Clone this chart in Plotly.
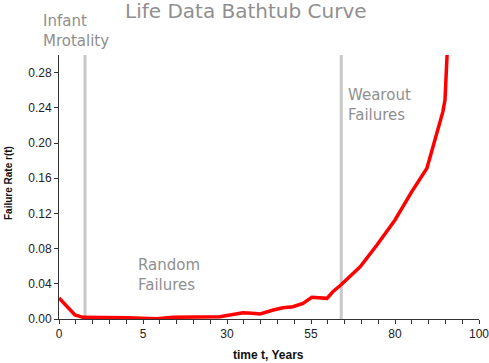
import plotly.graph_objects as go

# Failure-rate curve (x in axis units 0-100, y = failure rate)
time_x = [0, 3.8, 5.7, 16.2, 23.3, 27.1, 38.3, 40.7, 43.8, 46.0, 47.9, 51.0, 53.3,
          55.7, 58.1, 60.2, 61.7, 63.8, 65.2, 67.1, 71.7, 75.7, 80.0, 84.0, 87.6,
          90.0, 91.4, 91.9, 92.1, 92.4]
failure_rate = [0.024, 0.0045, 0.0019, 0.0015, 0.0002, 0.0019, 0.0026, 0.0045, 0.0072,
                0.0065, 0.0057, 0.0102, 0.0128, 0.014, 0.0178, 0.0247, 0.0242, 0.0235,
                0.031, 0.0386, 0.0594, 0.0841, 0.1125, 0.1447, 0.1713, 0.211, 0.2356,
                0.2489, 0.2792, 0.300]

# Phase boundaries
boundaries = [6.2, 67.2]

# X tick labels (as printed on the chart)
major_tick_vals = [0, 20, 40, 60, 80, 100]
major_tick_text = ["0", "5", "30", "55", "80", "100"]
minor_step = 4

y_tick_vals = [0.00, 0.04, 0.08, 0.12, 0.16, 0.20, 0.24, 0.28]

tickvals = list(range(0, 101, minor_step))
ticktext = [major_tick_text[major_tick_vals.index(v)] if v in major_tick_vals else "" for v in tickvals]

fig = go.Figure()
fig.add_trace(go.Scatter(x=time_x, y=failure_rate, mode="lines",
                         line=dict(color="#ff0000", width=3.5), cliponaxis=False,
                         hoverinfo="skip"))

for b in boundaries:
    fig.add_shape(type="line", xref="x", yref="y", x0=b, x1=b, y0=0, y1=0.30,
                  line=dict(color="#c8c8c8", width=3), layer="below")

gray = "#8f8f8f"
label_font = dict(family="DejaVu Sans", size=15, color=gray)

fig.add_annotation(text="Life Data Bathtub Curve", xref="paper", yref="paper",
                   x=(246 - 59) / 420, y=(319 - 11) / 264, xanchor="center", yanchor="middle",
                   showarrow=False, font=dict(family="DejaVu Sans", size=20, color=gray))
fig.add_annotation(text="Infant<br>Mrotality", xref="paper", yref="paper",
                   x=(41 - 59) / 420, y=(319 - 31) / 264, xanchor="left", yanchor="middle",
                   align="left", showarrow=False, font=label_font)
fig.add_annotation(text="Random<br>Failures", xref="x", yref="y",
                   x=18.4, y=0.0505, xanchor="left", yanchor="middle",
                   align="left", showarrow=False, font=label_font)
fig.add_annotation(text="Wearout<br>Failures", xref="x", yref="y",
                   x=68.4, y=0.243, xanchor="left", yanchor="middle",
                   align="left", showarrow=False, font=label_font)
fig.add_annotation(text="<b>Failure Rate r(t)</b>", xref="paper", yref="paper",
                   x=(8 - 59) / 420, y=(319 - 183) / 264, xanchor="center", yanchor="middle",
                   textangle=-90, showarrow=False,
                   font=dict(family="Liberation Sans", size=10, color="#111"))
fig.add_annotation(text="<b>time t, Years</b>", xref="paper", yref="paper",
                   x=(268 - 59) / 420, y=(319 - 355) / 264, xanchor="center", yanchor="middle",
                   showarrow=False, font=dict(family="Liberation Sans", size=12, color="#111"))

fig.update_layout(
    width=489, height=363,
    margin=dict(l=59, r=10, t=55, b=44),
    paper_bgcolor="white", plot_bgcolor="white",
    showlegend=False,
    xaxis=dict(range=[0, 100], tickmode="array", tickvals=tickvals, ticktext=ticktext,
               ticks="outside", ticklen=4, tickcolor="#333", showline=True, linecolor="#333",
               linewidth=1, showgrid=False, zeroline=False, automargin=False,
               ticklabeloverflow="allow",
               tickfont=dict(family="Liberation Sans", size=12, color="#222")),
    yaxis=dict(range=[0, 0.30], tickmode="array", tickvals=y_tick_vals,
               ticktext=[f"{v:.2f}" for v in y_tick_vals],
               ticks="outside", ticklen=4, tickcolor="#333", showline=True, linecolor="#333",
               linewidth=1, showgrid=False, zeroline=False, automargin=False,
               tickfont=dict(family="Liberation Sans", size=12, color="#222")),
)

fig.write_html("out.html", config={"displayModeBar": False},
               post_script="document.body.style.margin='0';document.body.style.overflow='hidden';")
